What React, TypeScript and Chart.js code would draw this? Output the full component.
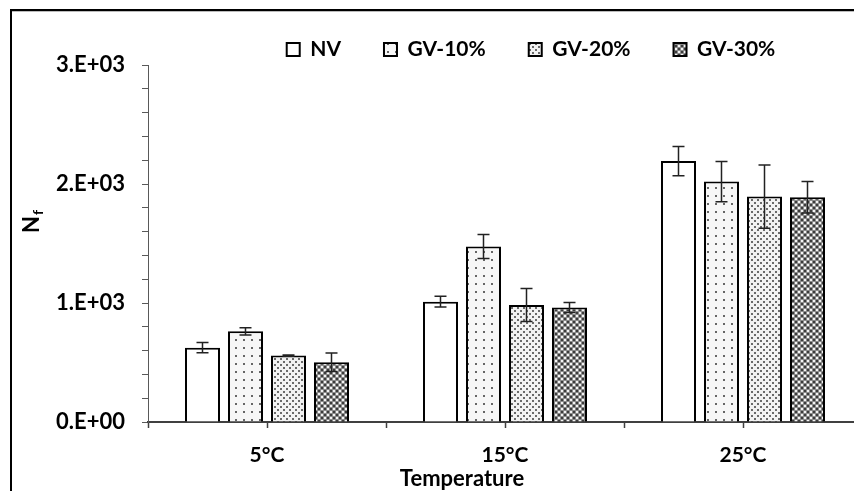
import React, { useEffect, useRef } from 'react';
import { Chart, registerables } from 'chart.js';

Chart.register(...registerables);

const categories = ['5°C', '15°C', '25°C'];
const seriesNames = ['NV', 'GV-10%', 'GV-20%', 'GV-30%'];
const nvValues = [625, 1011, 2193];
const nvErrors = [43, 45, 123];
const gv10Values = [762, 1475, 2020];
const gv10Errors = [30, 100, 170];
const gv20Values = [558, 983, 1894];
const gv20Errors = [6, 138, 265];
const gv30Values = [502, 963, 1889];
const gv30Errors = [78, 42, 133];
const yTickLabels = ['0.E+00', '1.E+03', '2.E+03', '3.E+03'];
const yTitleMain = 'N';
const yTitleSub = 'f';
const xAxisTitle = 'Temperature';

const FONT = 'Lato';
const LEG_DX = 100;
const LEG_DY = 5;

function makePattern(ctx: CanvasRenderingContext2D, kind: string): any {
  if (kind === 'plain') return '#ffffff';
  const c = document.createElement('canvas');
  const t = c.getContext('2d') as CanvasRenderingContext2D;
  if (kind === 'sparse') {
    c.width = 8; c.height = 8;
    t.fillStyle = '#f7f7f7'; t.fillRect(0, 0, 8, 8);
    t.fillStyle = '#666666'; t.fillRect(3, 3, 2, 2);
  } else if (kind === 'dense') {
    c.width = 6; c.height = 6;
    t.fillStyle = '#f2f2f2'; t.fillRect(0, 0, 6, 6);
    t.fillStyle = '#6a6a6a';
    t.fillRect(1, 1, 2, 2); t.fillRect(4, 4, 2, 2);
  } else {
    c.width = 6; c.height = 6;
    t.fillStyle = '#8c8c8c'; t.fillRect(0, 0, 6, 6);
    t.fillStyle = '#3c3c3c';
    t.fillRect(0, 0, 2, 2); t.fillRect(3, 3, 2, 2);
    t.fillStyle = '#f4f4f4';
    t.fillRect(3, 0, 2, 2); t.fillRect(0, 3, 2, 2);
  }
  return ctx.createPattern(c, 'repeat');
}

export default function App() {
  const ref = useRef<HTMLCanvasElement | null>(null);

  useEffect(() => {
    let chart: Chart | null = null;
    let cancelled = false;
    const build = () => {
      if (cancelled || !ref.current) return;
      const canvas = ref.current;
      const ctx = canvas.getContext('2d') as CanvasRenderingContext2D;
      const values = [nvValues, gv10Values, gv20Values, gv30Values];
      const errors = [nvErrors, gv10Errors, gv20Errors, gv30Errors];
      const kinds = ['plain', 'sparse', 'dense', 'check'];
      const font = { family: FONT, weight: 'bold' as const, size: 21 };

      const extras = {
        id: 'extras',
        afterLayout(c: any) {
          const lg = c.legend;
          if (lg) {
            lg.left += LEG_DX; lg.right += LEG_DX;
            lg.top += LEG_DY; lg.bottom += LEG_DY;
          }
        },
        afterDatasetsDraw(c: any) {
          const g = c.ctx as CanvasRenderingContext2D;
          const ys = c.scales.y;
          g.save();
          g.strokeStyle = '#222222';
          g.lineWidth = 1.5;
          c.data.datasets.forEach((ds: any, i: number) => {
            const meta = c.getDatasetMeta(i);
            meta.data.forEach((bar: any, j: number) => {
              const v = values[i][j];
              const e = errors[i][j];
              const yt = ys.getPixelForValue(v + e);
              const yb = ys.getPixelForValue(v - e);
              const x = bar.x;
              g.beginPath();
              g.moveTo(x, yt); g.lineTo(x, yb);
              g.moveTo(x - 6, yt); g.lineTo(x + 6, yt);
              g.moveTo(x - 6, yb); g.lineTo(x + 6, yb);
              g.stroke();
            });
          });
          g.restore();
        },
        afterDraw(c: any) {
          const g = c.ctx as CanvasRenderingContext2D;
          const xs = c.scales.x;
          g.save();
          // category centre tick marks
          g.strokeStyle = '#404040';
          g.lineWidth = 1.5;
          categories.forEach((_, i) => {
            const px = Math.round(xs.getPixelForValue(i)) + 0.5;
            g.beginPath();
            g.moveTo(px, xs.top);
            g.lineTo(px, xs.top + 6);
            g.stroke();
          });
          // x axis title
          g.fillStyle = '#000';
          g.font = `bold 22px ${FONT}`;
          g.textAlign = 'center';
          g.textBaseline = 'middle';
          g.fillText(xAxisTitle, 462, 479);
          // y axis title with subscript
          g.translate(32, 222);
          g.rotate(-Math.PI / 2);
          g.font = `bold 22px ${FONT}`;
          const wN = g.measureText(yTitleMain).width;
          g.font = `bold 14px ${FONT}`;
          const wf = g.measureText(yTitleSub).width;
          const start = -(wN + wf) / 2;
          g.textAlign = 'left';
          g.font = `bold 22px ${FONT}`;
          g.fillText(yTitleMain, start, 0);
          g.font = `bold 14px ${FONT}`;
          g.fillText(yTitleSub, start + wN + 1, 6);
          g.restore();
        },
      };

      chart = new Chart(canvas, {
        type: 'bar',
        data: {
          labels: categories,
          datasets: seriesNames.map((name, i) => ({
            label: name,
            data: values[i],
            backgroundColor: makePattern(ctx, kinds[i]),
            borderColor: '#000000',
            borderWidth: 2,
            barPercentage: 0.814,
            categoryPercentage: 0.7227,
          })),
        },
        options: {
          responsive: false,
          animation: false,
          events: [],
          layout: { padding: { left: 0, right: 18, top: -9, bottom: 0 } },
          plugins: {
            legend: {
              position: 'top',
              labels: {
                boxWidth: 13,
                boxHeight: 13,
                padding: 43,
                color: '#000',
                font,
              },
            },
            tooltip: { enabled: false },
          },
          scales: {
            x: {
              offset: true,
              grid: {
                offset: true,
                drawOnChartArea: false,
                drawTicks: true,
                tickLength: 6,
                color: '#404040',
                tickWidth: 1.5,
              },
              border: { color: '#404040', width: 2 },
              ticks: { color: '#000', font, padding: 15, maxRotation: 0, autoSkip: false },
              afterFit: (s: any) => { s.height = 69; },
            },
            y: {
              min: 0,
              max: 3000,
              ticks: {
                stepSize: 200,
                autoSkip: false,
                padding: 17,
                color: '#000',
                font: { family: FONT, weight: 'bold', size: 22 },
                callback: (v: any) => (Number(v) % 1000 === 0 ? yTickLabels[Number(v) / 1000] : ''),
              },
              grid: { drawOnChartArea: false, tickLength: 6, color: '#595959' },
              border: { color: '#595959', width: 1 },
              afterFit: (s: any) => { s.width = 148; },
            },
          },
        },
        plugins: [extras],
      } as any);
    };

    const fonts: any = (document as any).fonts;
    if (fonts && fonts.load) {
      Promise.all([fonts.load(`bold 21px ${FONT}`), fonts.load(`bold 14px ${FONT}`)])
        .then(build, build);
    } else {
      build();
    }
    return () => {
      cancelled = true;
      if (chart) chart.destroy();
    };
  }, []);

  return (
    <div style={{ position: 'fixed', left: 0, top: 0, width: 854, height: 491, overflow: 'hidden', background: '#fff' }}>
      <canvas ref={ref} width={880} height={491} style={{ position: 'absolute', left: 0, top: 0, width: 880, height: 491 }} />
      <div style={{ position: 'absolute', left: 10, top: 9, right: -5, bottom: -5, borderTop: '2px solid #000', borderLeft: '2px solid #000', pointerEvents: 'none' }} />
      <div style={{ position: 'absolute', left: 12, top: 11, right: 0, height: 1, background: '#bbbbbb', pointerEvents: 'none' }} />
    </div>
  );
}
